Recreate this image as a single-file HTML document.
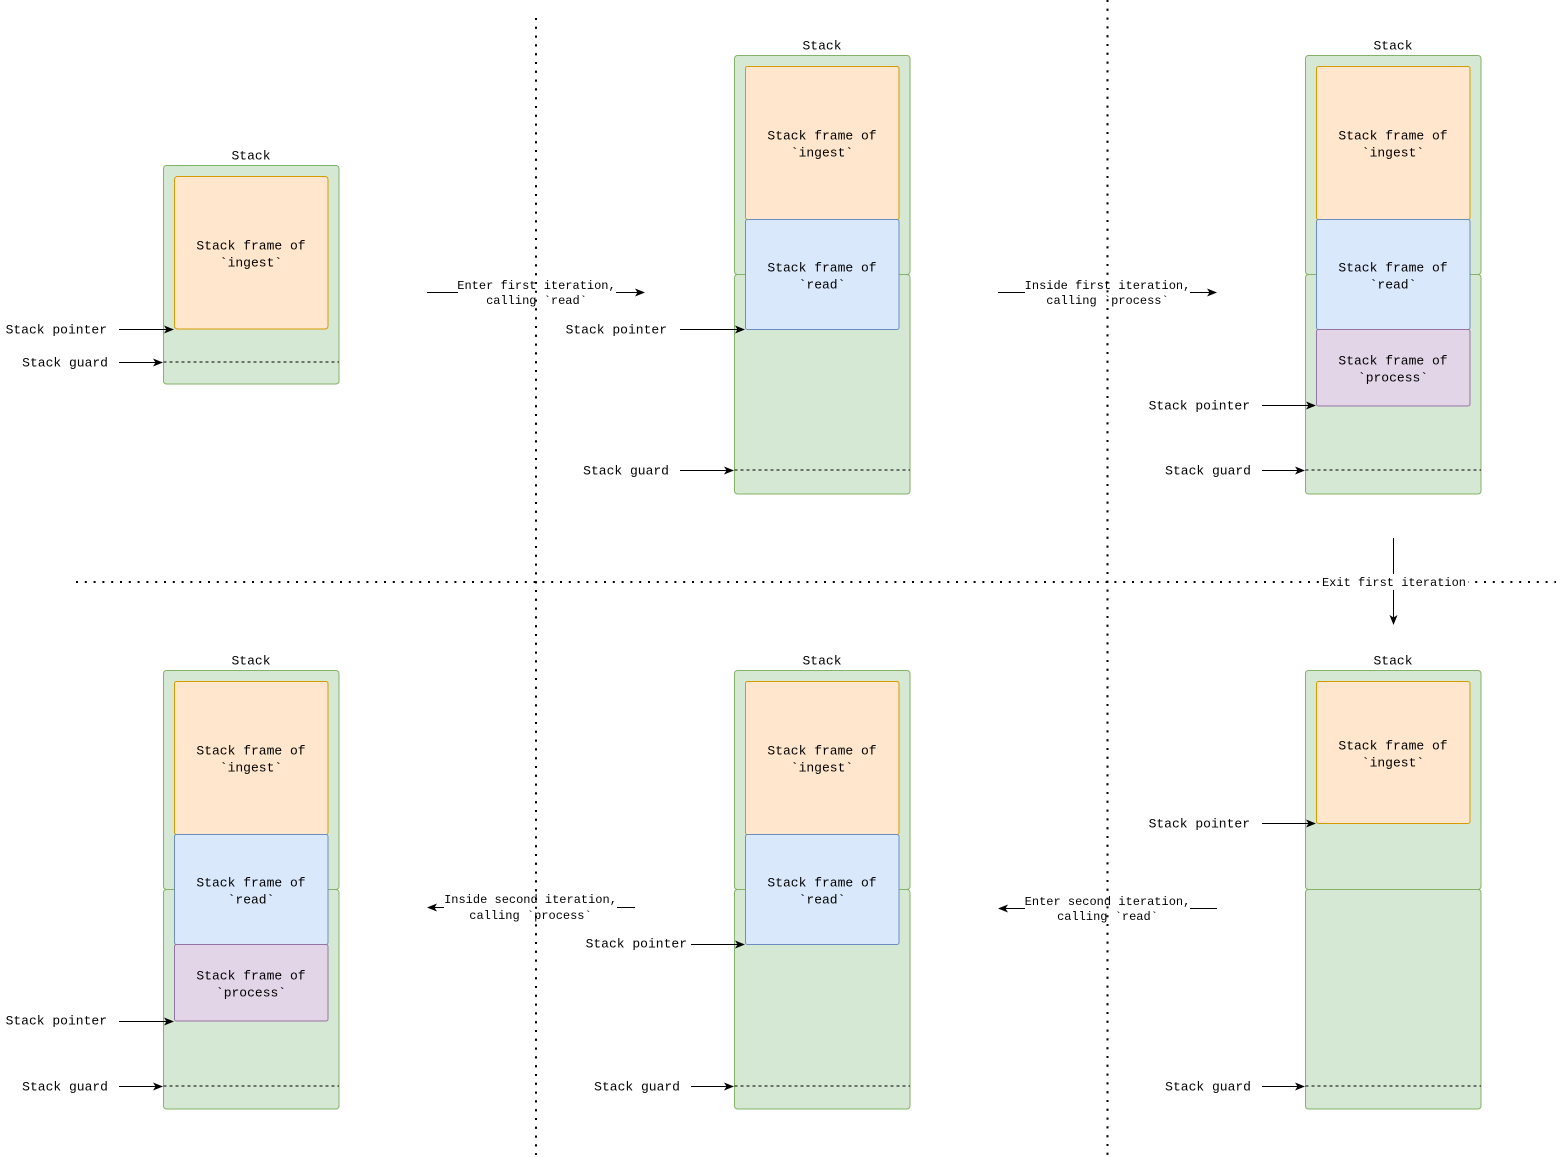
<!DOCTYPE html>
<html>
<head>
<meta charset="utf-8">
<style>
  html,body{margin:0;padding:0;background:#fff;}
  svg{display:block;}
  text{font-family:"Liberation Mono","DejaVu Sans Mono",monospace;fill:#000;transform:translateY(1px);}
</style>
</head>
<body>
<svg width="1560" height="1157" viewBox="0 0 1560 1157" xmlns="http://www.w3.org/2000/svg">
  <rect x="0" y="0" width="1560" height="1157" fill="#fff"/>

  <!-- dotted separators -->
  <g stroke="#000" stroke-width="2" stroke-dasharray="2 6.8" fill="none">
    <line x1="536" y1="18" x2="536" y2="1155"/>
    <line x1="1107.5" y1="0" x2="1107.5" y2="1155"/>
    <line x1="76" y1="582" x2="1556" y2="582"/>
  </g>

  <!-- ========== Panel 1 (top-left) ========== -->
  <text x="251" y="155" font-size="13" text-anchor="middle" dominant-baseline="central">Stack</text>
  <rect x="163.5" y="165.5" width="175.5" height="218.5" rx="3" fill="#d5e8d4" stroke="#82b366"/>
  <rect x="174.5" y="176.5" width="153.5" height="152.5" rx="3" fill="#ffe6cc" stroke="#d79b00"/>
  <text x="251" y="245" font-size="13" text-anchor="middle" dominant-baseline="central">Stack frame of</text>
  <text x="251" y="262" font-size="13" text-anchor="middle" dominant-baseline="central">`ingest`</text>
  <line x1="163.5" y1="362" x2="339" y2="362" stroke="#000" stroke-dasharray="3 3"/>
  <text x="107" y="329" font-size="13" text-anchor="end" dominant-baseline="central">Stack pointer</text>
  <text x="108" y="362" font-size="13" text-anchor="end" dominant-baseline="central">Stack guard</text>
  <line x1="119" y1="329.5" x2="168" y2="329.5" stroke="#000"/>
  <polygon points="164,325.5 174,329.5 164,333.5 166.5,329.5" fill="#000"/>
  <line x1="119" y1="362.5" x2="157" y2="362.5" stroke="#000"/>
  <polygon points="153,358.5 163,362.5 153,366.5 155.5,362.5" fill="#000"/>

  <!-- ========== Panel 2 (top-middle) ========== -->
  <text x="822" y="45" font-size="13" text-anchor="middle" dominant-baseline="central">Stack</text>
  <rect x="734.5" y="55.5" width="175.5" height="219" rx="3" fill="#d5e8d4" stroke="#82b366"/>
  <rect x="734.5" y="274.5" width="175.5" height="219.5" rx="3" fill="#d5e8d4" stroke="#82b366"/>
  <rect x="745.5" y="66.5" width="153.5" height="153" rx="2" fill="#ffe6cc" stroke="#d79b00"/>
  <rect x="745.5" y="219.5" width="153.5" height="110" rx="2" fill="#dae8fc" stroke="#6c8ebf"/>
  <text x="822" y="135" font-size="13" text-anchor="middle" dominant-baseline="central">Stack frame of</text>
  <text x="822" y="152" font-size="13" text-anchor="middle" dominant-baseline="central">`ingest`</text>
  <text x="822" y="267" font-size="13" text-anchor="middle" dominant-baseline="central">Stack frame of</text>
  <text x="822" y="284" font-size="13" text-anchor="middle" dominant-baseline="central">`read`</text>
  <line x1="734.5" y1="470" x2="910" y2="470" stroke="#000" stroke-dasharray="3 3"/>
  <text x="667" y="329" font-size="13" text-anchor="end" dominant-baseline="central">Stack pointer</text>
  <text x="669" y="470" font-size="13" text-anchor="end" dominant-baseline="central">Stack guard</text>
  <line x1="680" y1="329.5" x2="739" y2="329.5" stroke="#000"/>
  <polygon points="735,325.5 745,329.5 735,333.5 737.5,329.5" fill="#000"/>
  <line x1="680" y1="470.5" x2="728" y2="470.5" stroke="#000"/>
  <polygon points="724,466.5 734,470.5 724,474.5 726.5,470.5" fill="#000"/>

  <!-- ========== Panel 3 (top-right) ========== -->
  <text x="1393" y="45" font-size="13" text-anchor="middle" dominant-baseline="central">Stack</text>
  <rect x="1305.5" y="55.5" width="175.5" height="219" rx="3" fill="#d5e8d4" stroke="#82b366"/>
  <rect x="1305.5" y="274.5" width="175.5" height="219.5" rx="3" fill="#d5e8d4" stroke="#82b366"/>
  <rect x="1316.5" y="66.5" width="153.5" height="153" rx="2" fill="#ffe6cc" stroke="#d79b00"/>
  <rect x="1316.5" y="219.5" width="153.5" height="110" rx="2" fill="#dae8fc" stroke="#6c8ebf"/>
  <rect x="1316.5" y="329.5" width="153.5" height="76.5" rx="2" fill="#e1d5e7" stroke="#9673a6"/>
  <text x="1393" y="135" font-size="13" text-anchor="middle" dominant-baseline="central">Stack frame of</text>
  <text x="1393" y="152" font-size="13" text-anchor="middle" dominant-baseline="central">`ingest`</text>
  <text x="1393" y="267" font-size="13" text-anchor="middle" dominant-baseline="central">Stack frame of</text>
  <text x="1393" y="284" font-size="13" text-anchor="middle" dominant-baseline="central">`read`</text>
  <text x="1393" y="360" font-size="13" text-anchor="middle" dominant-baseline="central">Stack frame of</text>
  <text x="1393" y="377" font-size="13" text-anchor="middle" dominant-baseline="central">`process`</text>
  <line x1="1305.5" y1="470" x2="1481" y2="470" stroke="#000" stroke-dasharray="3 3"/>
  <text x="1250" y="405" font-size="13" text-anchor="end" dominant-baseline="central">Stack pointer</text>
  <text x="1251" y="470" font-size="13" text-anchor="end" dominant-baseline="central">Stack guard</text>
  <line x1="1262" y1="405.5" x2="1310" y2="405.5" stroke="#000"/>
  <polygon points="1306,401.5 1316,405.5 1306,409.5 1308.5,405.5" fill="#000"/>
  <line x1="1262" y1="470.5" x2="1299" y2="470.5" stroke="#000"/>
  <polygon points="1295,466.5 1305,470.5 1295,474.5 1297.5,470.5" fill="#000"/>

  <!-- ========== Panel 4 (bottom-left) ========== -->
  <text x="251" y="660" font-size="13" text-anchor="middle" dominant-baseline="central">Stack</text>
  <rect x="163.5" y="670.5" width="175.5" height="219" rx="3" fill="#d5e8d4" stroke="#82b366"/>
  <rect x="163.5" y="889.5" width="175.5" height="219.5" rx="3" fill="#d5e8d4" stroke="#82b366"/>
  <rect x="174.5" y="681.5" width="153.5" height="153" rx="2" fill="#ffe6cc" stroke="#d79b00"/>
  <rect x="174.5" y="834.5" width="153.5" height="110" rx="2" fill="#dae8fc" stroke="#6c8ebf"/>
  <rect x="174.5" y="944.5" width="153.5" height="76.5" rx="2" fill="#e1d5e7" stroke="#9673a6"/>
  <text x="251" y="750" font-size="13" text-anchor="middle" dominant-baseline="central">Stack frame of</text>
  <text x="251" y="767" font-size="13" text-anchor="middle" dominant-baseline="central">`ingest`</text>
  <text x="251" y="882" font-size="13" text-anchor="middle" dominant-baseline="central">Stack frame of</text>
  <text x="251" y="899" font-size="13" text-anchor="middle" dominant-baseline="central">`read`</text>
  <text x="251" y="975" font-size="13" text-anchor="middle" dominant-baseline="central">Stack frame of</text>
  <text x="251" y="992" font-size="13" text-anchor="middle" dominant-baseline="central">`process`</text>
  <line x1="163.5" y1="1086" x2="339" y2="1086" stroke="#000" stroke-dasharray="3 3"/>
  <text x="107" y="1020" font-size="13" text-anchor="end" dominant-baseline="central">Stack pointer</text>
  <text x="108" y="1086" font-size="13" text-anchor="end" dominant-baseline="central">Stack guard</text>
  <line x1="119" y1="1021.5" x2="168" y2="1021.5" stroke="#000"/>
  <polygon points="164,1017.5 174,1021.5 164,1025.5 166.5,1021.5" fill="#000"/>
  <line x1="119" y1="1086.5" x2="157" y2="1086.5" stroke="#000"/>
  <polygon points="153,1082.5 163,1086.5 153,1090.5 155.5,1086.5" fill="#000"/>

  <!-- ========== Panel 5 (bottom-middle) ========== -->
  <text x="822" y="660" font-size="13" text-anchor="middle" dominant-baseline="central">Stack</text>
  <rect x="734.5" y="670.5" width="175.5" height="219" rx="3" fill="#d5e8d4" stroke="#82b366"/>
  <rect x="734.5" y="889.5" width="175.5" height="219.5" rx="3" fill="#d5e8d4" stroke="#82b366"/>
  <rect x="745.5" y="681.5" width="153.5" height="153" rx="2" fill="#ffe6cc" stroke="#d79b00"/>
  <rect x="745.5" y="834.5" width="153.5" height="110" rx="2" fill="#dae8fc" stroke="#6c8ebf"/>
  <text x="822" y="750" font-size="13" text-anchor="middle" dominant-baseline="central">Stack frame of</text>
  <text x="822" y="767" font-size="13" text-anchor="middle" dominant-baseline="central">`ingest`</text>
  <text x="822" y="882" font-size="13" text-anchor="middle" dominant-baseline="central">Stack frame of</text>
  <text x="822" y="899" font-size="13" text-anchor="middle" dominant-baseline="central">`read`</text>
  <line x1="734.5" y1="1086" x2="910" y2="1086" stroke="#000" stroke-dasharray="3 3"/>
  <text x="687" y="943" font-size="13" text-anchor="end" dominant-baseline="central">Stack pointer</text>
  <text x="680" y="1086" font-size="13" text-anchor="end" dominant-baseline="central">Stack guard</text>
  <line x1="691" y1="944.5" x2="739" y2="944.5" stroke="#000"/>
  <polygon points="735,940.5 745,944.5 735,948.5 737.5,944.5" fill="#000"/>
  <line x1="691" y1="1086.5" x2="728" y2="1086.5" stroke="#000"/>
  <polygon points="724,1082.5 734,1086.5 724,1090.5 726.5,1086.5" fill="#000"/>

  <!-- ========== Panel 6 (bottom-right) ========== -->
  <text x="1393" y="660" font-size="13" text-anchor="middle" dominant-baseline="central">Stack</text>
  <rect x="1305.5" y="670.5" width="175.5" height="219" rx="3" fill="#d5e8d4" stroke="#82b366"/>
  <rect x="1305.5" y="889.5" width="175.5" height="219.5" rx="3" fill="#d5e8d4" stroke="#82b366"/>
  <rect x="1316.5" y="681.5" width="153.5" height="142" rx="2" fill="#ffe6cc" stroke="#d79b00"/>
  <text x="1393" y="745" font-size="13" text-anchor="middle" dominant-baseline="central">Stack frame of</text>
  <text x="1393" y="762" font-size="13" text-anchor="middle" dominant-baseline="central">`ingest`</text>
  <line x1="1305.5" y1="1086" x2="1481" y2="1086" stroke="#000" stroke-dasharray="3 3"/>
  <text x="1250" y="823" font-size="13" text-anchor="end" dominant-baseline="central">Stack pointer</text>
  <text x="1251" y="1086" font-size="13" text-anchor="end" dominant-baseline="central">Stack guard</text>
  <line x1="1262" y1="823.5" x2="1310" y2="823.5" stroke="#000"/>
  <polygon points="1306,819.5 1316,823.5 1306,827.5 1308.5,823.5" fill="#000"/>
  <line x1="1262" y1="1086.5" x2="1299" y2="1086.5" stroke="#000"/>
  <polygon points="1295,1082.5 1305,1086.5 1295,1090.5 1297.5,1086.5" fill="#000"/>

  <!-- ========== Transition: Enter first iteration ========== -->
  <line x1="427" y1="292.5" x2="639" y2="292.5" stroke="#000"/>
  <polygon points="635,288.5 645,292.5 635,296.5 637.5,292.5" fill="#000"/>
  <rect x="458" y="279" width="158" height="27" fill="#fff"/>
  <text x="536.5" y="285" font-size="12" text-anchor="middle" dominant-baseline="central">Enter first iteration,</text>
  <text x="536.5" y="300" font-size="12" text-anchor="middle" dominant-baseline="central">calling `read`</text>

  <!-- ========== Transition: Inside first iteration ========== -->
  <line x1="998" y1="292.5" x2="1211" y2="292.5" stroke="#000"/>
  <polygon points="1207,288.5 1217,292.5 1207,296.5 1209.5,292.5" fill="#000"/>
  <rect x="1025" y="279" width="165" height="27" fill="#fff"/>
  <text x="1107.5" y="285" font-size="12" text-anchor="middle" dominant-baseline="central">Inside first iteration,</text>
  <text x="1107.5" y="300" font-size="12" text-anchor="middle" dominant-baseline="central">calling `process`</text>

  <!-- ========== Transition: Inside second iteration ========== -->
  <line x1="433" y1="907.5" x2="635" y2="907.5" stroke="#000"/>
  <polygon points="437,903.5 427,907.5 437,911.5 434.5,907.5" fill="#000"/>
  <rect x="444" y="893" width="173" height="28" fill="#fff"/>
  <text x="530.5" y="899" font-size="12" text-anchor="middle" dominant-baseline="central">Inside second iteration,</text>
  <text x="530.5" y="915" font-size="12" text-anchor="middle" dominant-baseline="central">calling `process`</text>

  <!-- ========== Transition: Enter second iteration ========== -->
  <line x1="1004" y1="908.5" x2="1217" y2="908.5" stroke="#000"/>
  <polygon points="1008,904.5 998,908.5 1008,912.5 1005.5,908.5" fill="#000"/>
  <rect x="1025" y="895" width="165" height="28" fill="#fff"/>
  <text x="1107.5" y="901" font-size="12" text-anchor="middle" dominant-baseline="central">Enter second iteration,</text>
  <text x="1107.5" y="916" font-size="12" text-anchor="middle" dominant-baseline="central">calling `read`</text>

  <!-- dotted vertical lines drawn over label backgrounds (as in reference) -->
  <g stroke="#000" stroke-width="2" stroke-dasharray="2 6.8" fill="none">
    <line x1="536" y1="18" x2="536" y2="1155"/>
    <line x1="1107.5" y1="0" x2="1107.5" y2="1155"/>
  </g>

  <!-- ========== Exit first iteration ========== -->
  <line x1="1393.5" y1="538" x2="1393.5" y2="619" stroke="#000"/>
  <polygon points="1389.5,615 1393.5,625 1397.5,615 1393.5,617.5" fill="#000"/>
  <rect x="1320" y="574" width="148" height="16" fill="#fff"/>
  <text x="1394" y="582" font-size="12" text-anchor="middle" dominant-baseline="central">Exit first iteration</text>
</svg>
</body>
</html>
